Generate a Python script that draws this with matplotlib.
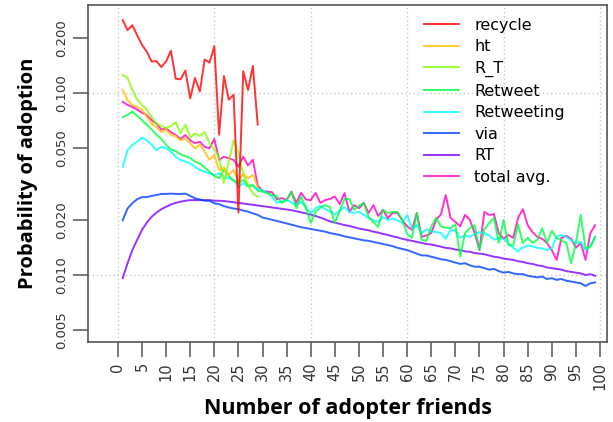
import numpy as np
import matplotlib
matplotlib.use("Agg")
import matplotlib.pyplot as plt
from matplotlib.ticker import FixedLocator, NullLocator

# x = number of adopter friends
friends = np.arange(1, 100)
friends_short = np.arange(1, 30)

recycle = [0.252, 0.222, 0.236, 0.208, 0.184, 0.169, 0.149, 0.150, 0.139, 0.149,
           0.171, 0.120, 0.119, 0.133, 0.0935, 0.121, 0.102, 0.153, 0.147, 0.181,
           0.059, 0.124, 0.092, 0.098, 0.022, 0.132, 0.104, 0.141, 0.067]

ht = [0.104, 0.0915, 0.086, 0.084, 0.081, 0.074, 0.068, 0.065, 0.061, 0.063,
      0.0588, 0.058, 0.055, 0.056, 0.053, 0.0497, 0.052, 0.0476, 0.043, 0.0457,
      0.0378, 0.039, 0.0355, 0.0378, 0.0326, 0.036, 0.034, 0.0355, 0.0306]

r_t = [0.126, 0.121, 0.104, 0.092, 0.086, 0.081, 0.074, 0.068, 0.066, 0.064,
       0.066, 0.069, 0.060, 0.067, 0.057, 0.060, 0.058, 0.061, 0.053, 0.049,
       0.044, 0.032, 0.042, 0.055, 0.047, 0.036, 0.031, 0.028, 0.027]

retweet = [0.0737, 0.076, 0.079, 0.075, 0.071, 0.067, 0.063, 0.059, 0.056, 0.052,
           0.049, 0.048, 0.046, 0.045, 0.044, 0.042, 0.041, 0.039, 0.037, 0.035,
           0.034, 0.038, 0.035, 0.033, 0.032, 0.0333, 0.031, 0.0312, 0.029, 0.0287,
           0.0282, 0.0275, 0.027, 0.0249, 0.0258, 0.0287, 0.0233, 0.0270, 0.0233, 0.0193,
           0.0222, 0.0235, 0.0242, 0.0236, 0.0193, 0.0225, 0.0262, 0.0262, 0.0228, 0.0240,
           0.0249, 0.0208, 0.0195, 0.0184, 0.0228, 0.0219, 0.0222, 0.0222, 0.0200, 0.0168,
           0.0160, 0.0219, 0.0156, 0.0154, 0.0185, 0.0206, 0.0185, 0.0182, 0.0181, 0.0190,
           0.0126, 0.0170, 0.0181, 0.0188, 0.0137, 0.0178, 0.0193, 0.0206, 0.0150, 0.0201,
           0.0146, 0.0145, 0.0190, 0.0150, 0.0160, 0.0150, 0.0156, 0.0181, 0.0150, 0.0175,
           0.0160, 0.0155, 0.0150, 0.0116, 0.0150, 0.0214, 0.0140, 0.0142, 0.0162]

retweeting = [0.0394, 0.0486, 0.0518, 0.054, 0.057, 0.055, 0.052, 0.0486, 0.0507, 0.0497,
              0.0476, 0.0447, 0.0429, 0.042, 0.041, 0.0394, 0.0378, 0.037, 0.0362, 0.0355,
              0.0362, 0.0347, 0.0340, 0.0333, 0.0306, 0.0319, 0.0306, 0.031, 0.0298, 0.0293,
              0.0282, 0.0268, 0.0249, 0.0254, 0.0258, 0.0250, 0.0242, 0.0252, 0.0236, 0.0219,
              0.0233, 0.0240, 0.0230, 0.0224, 0.0215, 0.0225, 0.0236, 0.0222, 0.0220, 0.0222,
              0.0214, 0.0206, 0.0200, 0.0196, 0.0208, 0.0201, 0.0204, 0.0200, 0.0193, 0.0214,
              0.0180, 0.0188, 0.0170, 0.0178, 0.0174, 0.0172, 0.0170, 0.0158, 0.0177, 0.0175,
              0.0160, 0.0165, 0.0162, 0.0168, 0.0172, 0.0170, 0.0165, 0.0156, 0.0160, 0.0158,
              0.0150, 0.0141, 0.0135, 0.0142, 0.0145, 0.0144, 0.0141, 0.0140, 0.0137, 0.0140,
              0.0162, 0.0166, 0.0162, 0.0155, 0.0150, 0.0152, 0.0137, 0.0145, 0.0162]

via = [0.0200, 0.0232, 0.0248, 0.0261, 0.0268, 0.0268, 0.0272, 0.0275, 0.0279, 0.0279,
       0.0280, 0.0279, 0.0279, 0.0280, 0.0272, 0.0264, 0.0260, 0.0256, 0.0256, 0.0248,
       0.0245, 0.0239, 0.0235, 0.0232, 0.0230, 0.0226, 0.0223, 0.0218, 0.0214, 0.0207,
       0.0204, 0.0201, 0.0198, 0.0195, 0.0192, 0.0189, 0.0186, 0.0183, 0.0181, 0.0179,
       0.0177, 0.0175, 0.0173, 0.0170, 0.0168, 0.0166, 0.0163, 0.0161, 0.0159, 0.0157,
       0.0155, 0.0154, 0.0152, 0.0150, 0.0148, 0.0146, 0.0144, 0.0141, 0.0139, 0.0137,
       0.0134, 0.0131, 0.0128, 0.0128, 0.0126, 0.0124, 0.0122, 0.0121, 0.0119, 0.0117,
       0.0115, 0.0116, 0.0113, 0.0111, 0.0111, 0.0109, 0.0107, 0.0108, 0.0105, 0.0103,
       0.0104, 0.0102, 0.0101, 0.0101, 0.0099, 0.0098, 0.0097, 0.0098, 0.0095, 0.0096,
       0.0094, 0.0095, 0.0093, 0.0092, 0.0091, 0.0090, 0.0087, 0.0090, 0.0091]

rt = [0.0096, 0.0116, 0.0137, 0.0156, 0.0177, 0.0194, 0.0209, 0.0220, 0.0230, 0.0237,
      0.0244, 0.0249, 0.0253, 0.0256, 0.0258, 0.0258, 0.0258, 0.0258, 0.0258, 0.0256,
      0.0256, 0.0255, 0.0253, 0.0251, 0.0249, 0.0247, 0.0245, 0.0243, 0.0241, 0.0239,
      0.0237, 0.0235, 0.0233, 0.0231, 0.0229, 0.0227, 0.0224, 0.0221, 0.0218, 0.0215,
      0.0211, 0.0207, 0.0202, 0.0197, 0.0194, 0.0191, 0.0188, 0.0186, 0.0183, 0.0180,
      0.0178, 0.0176, 0.0173, 0.0171, 0.0168, 0.0166, 0.0163, 0.0161, 0.0158, 0.0156,
      0.0154, 0.0152, 0.0150, 0.0148, 0.0147, 0.0145, 0.0143, 0.0141, 0.0140, 0.0138,
      0.0137, 0.0135, 0.0134, 0.0132, 0.0131, 0.0130, 0.0128, 0.0126, 0.0125, 0.0123,
      0.0122, 0.0121, 0.0119, 0.0118, 0.0116, 0.0115, 0.0113, 0.0112, 0.0110, 0.0109,
      0.0108, 0.0107, 0.0105, 0.0104, 0.0103, 0.0102, 0.0100, 0.0101, 0.0099]

total_avg = [0.0896, 0.086, 0.084, 0.081, 0.078, 0.0757, 0.071, 0.068, 0.063, 0.064,
             0.061, 0.0588, 0.056, 0.0588, 0.055, 0.053, 0.054, 0.0507, 0.0497, 0.056,
             0.0429, 0.0447, 0.0438, 0.0429, 0.0394, 0.0447, 0.0400, 0.0430, 0.031, 0.029,
             0.0287, 0.0285, 0.026, 0.0265, 0.0258, 0.0287, 0.0249, 0.0283, 0.026, 0.0258,
             0.0283, 0.0249, 0.0258, 0.0262, 0.027, 0.0245, 0.0282, 0.0222, 0.0242, 0.0233,
             0.0249, 0.0219, 0.0242, 0.0211, 0.0228, 0.0205, 0.0220, 0.0219, 0.0200, 0.0185,
             0.0177, 0.0219, 0.0162, 0.0165, 0.0170, 0.0201, 0.0215, 0.0275, 0.0206, 0.0196,
             0.0185, 0.0214, 0.0201, 0.0170, 0.0137, 0.0222, 0.0214, 0.0216, 0.0170, 0.0158,
             0.0166, 0.0160, 0.0206, 0.0230, 0.0188, 0.0172, 0.0162, 0.0158, 0.0150, 0.0137,
             0.0121, 0.0160, 0.0164, 0.0158, 0.0141, 0.0150, 0.0121, 0.0170, 0.0188]

# R rainbow(8)
series = [
    ("recycle", friends_short, recycle, "#FF0000"),
    ("ht", friends_short, ht, "#FFBF00"),
    ("R_T", friends_short, r_t, "#80FF00"),
    ("Retweet", friends, retweet, "#00FF40"),
    ("Retweeting", friends, retweeting, "#00FFFF"),
    ("via", friends, via, "#0040FF"),
    ("RT", friends, rt, "#8000FF"),
    ("total avg.", friends, total_avg, "#FF00BF"),
]

xticks = list(range(0, 101, 5))
yticks = [0.005, 0.010, 0.020, 0.050, 0.100, 0.200]
ytick_labels = ["0.005", "0.010", "0.020", "0.050", "0.100", "0.200"]

fig = plt.figure(figsize=(6.13, 4.22), dpi=100)
ax = fig.add_axes([88 / 613, 80 / 422, 519 / 613, 337 / 422])

# plot in reverse so recycle lies on top
for name, xs, ys, col in reversed(series):
    ax.plot(xs, ys, color=col, lw=1.4, alpha=0.8, label=name)

ax.set_yscale("log")
ax.set_xlim(-6.2, 101.45)
ax.set_ylim(0.00428, 0.305)

# dotted grid
for gx in range(0, 101, 20):
    ax.axvline(gx, color="#c8c8c8", lw=1.0, ls=(0, (1, 2)), zorder=0)
for gy in [0.01, 0.1]:
    ax.axhline(gy, color="#c8c8c8", lw=1.0, ls=(0, (1, 2)), zorder=0)

ax.xaxis.set_major_locator(FixedLocator(xticks))
ax.set_xticklabels([str(t) for t in xticks], rotation=90, fontsize=10.5, color="#333333")
ax.yaxis.set_major_locator(FixedLocator(yticks))
ax.yaxis.set_minor_locator(NullLocator())
ax.set_yticklabels(ytick_labels, rotation=90, va="center", fontsize=9.5, color="#333333")

ax.tick_params(axis="both", direction="out", length=11, width=1.1, color="#555555", pad=3.5)
for sp in ax.spines.values():
    sp.set_color("#555555")
    sp.set_linewidth(1.2)

ax.set_xlabel("Number of adopter friends", fontsize=15.5, fontweight="bold",
              family=["Open Sans", "DejaVu Sans"], labelpad=6)
ax.set_ylabel("Probability of adoption", fontsize=14.5, fontweight="bold",
              family=["Open Sans", "DejaVu Sans"], labelpad=12)

handles, labels = ax.get_legend_handles_labels()
ax.legend(handles[::-1], labels[::-1], loc="upper left", bbox_to_anchor=(0.623, 1.0),
          frameon=False, fontsize=11.5, handlelength=2.2, handletextpad=0.95,
          labelspacing=0.41, borderaxespad=0.4)

fig.savefig("out.png", dpi=100)
